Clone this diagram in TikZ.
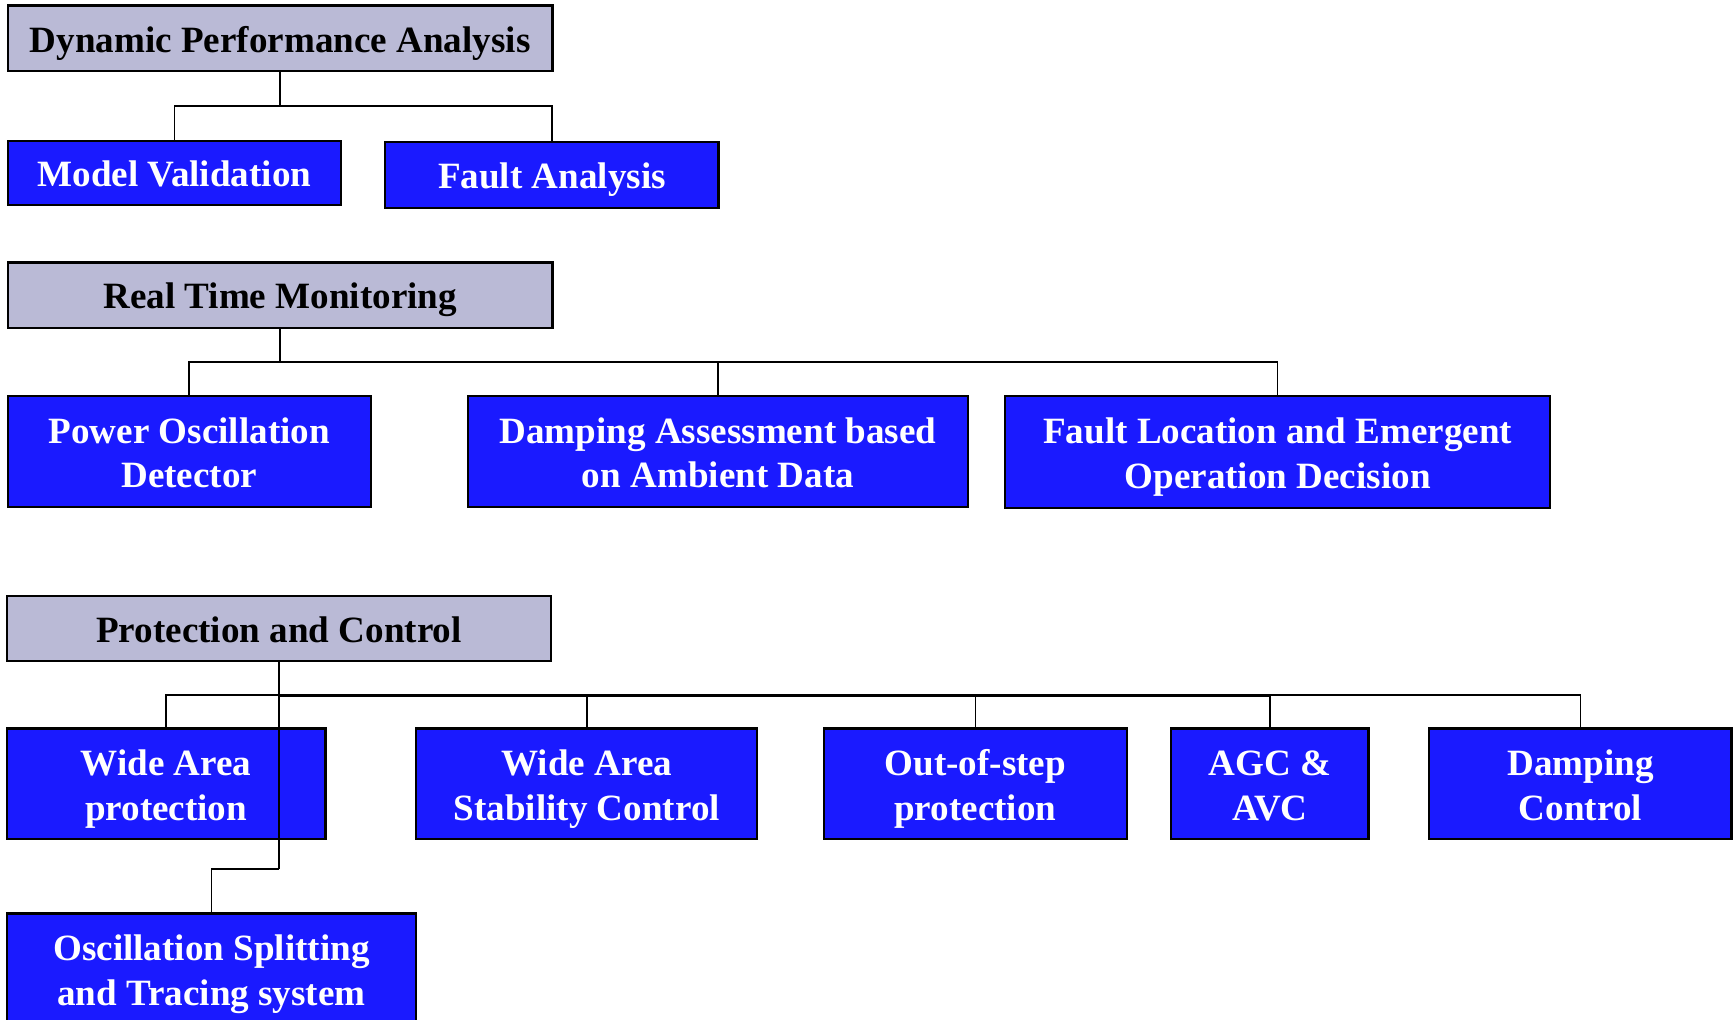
\documentclass[tikz,border=0pt]{standalone}
\usepackage{fontspec}
\setmainfont{Liberation Serif}
\definecolor{lav}{RGB}{186,186,214}
\definecolor{bblue}{RGB}{26,26,255}
\begin{document}
\begin{tikzpicture}[x=1pt,y=-1pt,
  basebox/.style={draw=black, line width=2pt, inner sep=0pt, align=center,
     text height=29pt, text depth=4pt,
     font=\fontsize{33.5}{40.5}\selectfont\bfseries},
  twoline/.style={text height=69.5pt},
  gbox/.style={basebox, fill=lav, text=black},
  bbox/.style={basebox, fill=bblue, text=white},
  conn/.style={draw=black, line width=1.5pt},
  trunk/.style={draw=black, line width=2.5pt}]
\useasboundingbox (0,0) rectangle (1568,921);
\clip (0,0) rectangle (1568,921);
% group 1
\node[gbox, minimum width=492, minimum height=59] (dpa) at (253,34.5) {Dynamic Performance Analysis};
\node[bbox, minimum width=301, minimum height=58] (mv) at (157.5,156) {Model Validation};
\node[bbox, minimum width=301, minimum height=60] (fa) at (498.5,158) {Fault Analysis};
\coordinate (b1) at (253,96);
\draw[conn] (dpa.south) -- (b1) -| (mv.north);
\draw[conn] (b1) -| (fa.north);
% group 2
\node[gbox, minimum width=492, minimum height=59] (rtm) at (253,266.5) {Real Time Monitoring};
\node[bbox, twoline, minimum width=328, minimum height=100] (pod) at (171,408) {Power Oscillation\\Detector};
\node[bbox, twoline, minimum width=451, minimum height=100] (daa) at (648.5,408) {Damping Assessment based\\on Ambient Data};
\node[bbox, twoline, minimum width=492, minimum height=101] (fle) at (1154,408.5) {Fault Location and Emergent\\Operation Decision};
\coordinate (b2) at (253,327);
\draw[conn] (rtm.south) -- (b2);
\draw[conn] (b2) -| (pod.north);
\draw[conn] (b2) -| (daa.north);
\draw[conn] (b2) -| (fle.north);
% group 3
\node[gbox, minimum width=492, minimum height=59] (pc) at (252,567.5) {Protection and Control};
\node[bbox, twoline, minimum width=288, minimum height=100] (wap) at (150,708) {Wide Area\\protection};
\node[bbox, twoline, minimum width=308, minimum height=100] (wasc) at (530,708) {Wide Area\\Stability Control};
\node[bbox, twoline, minimum width=274, minimum height=100] (oos) at (881,708) {Out-of-step\\protection};
\node[bbox, twoline, minimum width=178, minimum height=100] (agc) at (1147,708) {AGC \&\\AVC};
\node[bbox, twoline, minimum width=273, minimum height=100] (dc) at (1427.5,708) {Damping\\Control};
\node[bbox, twoline, minimum width=370, minimum height=100] (ost) at (191,875) {Oscillation Splitting\\and Tracing system};
\coordinate (b3) at (252,628);
\coordinate (j3) at (252,785);
\draw[conn] (b3) -| (wap.north);
\draw[conn] (b3 -| wasc.north) -- (wasc.north);
\draw[conn] (b3 -| oos.north) -- (oos.north);
\draw[conn] (b3 -| agc.north) -| (dc.north);
\draw[conn] (b3 -| agc.north) -- (agc.north);
\draw[trunk] (b3) -- (b3 -| agc.north);
\draw[trunk] (pc.south) -- (b3) -- (j3);
\draw[conn] (j3) -| (ost.north);
\end{tikzpicture}
\end{document}
